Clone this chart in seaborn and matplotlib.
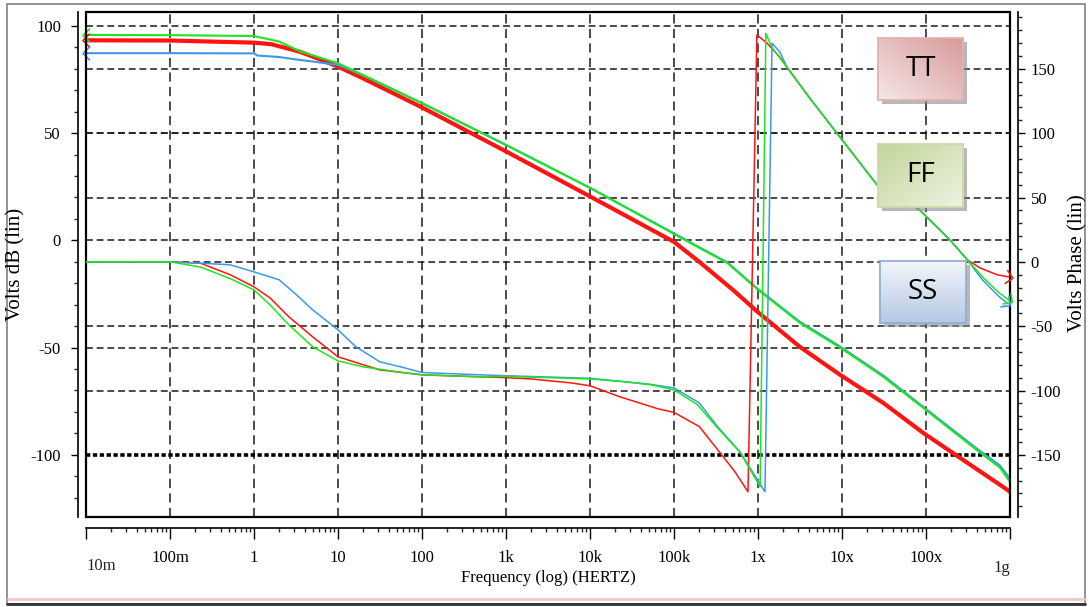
import numpy as np
import matplotlib
matplotlib.use("Agg")
import matplotlib.pyplot as plt
import matplotlib.ticker as mticker
import seaborn as sns
from matplotlib.path import Path
from matplotlib.markers import MarkerStyle
from matplotlib.transforms import Affine2D, blended_transform_factory
from matplotlib.patches import Rectangle
from matplotlib.lines import Line2D
from matplotlib.colors import to_rgb

# ---- axis ticks (SPICE engineering notation) ----
freq_ticks = [1e-2, 1e-1, 1, 10, 100, 1e3, 1e4, 1e5, 1e6, 1e7, 1e8, 1e9]
freq_labels = ["10m", "100m", "1", "10", "100", "1k", "10k", "100k", "1x", "10x", "100x", "1g"]
db_ticks = [100, 50, 0, -50, -100]
phase_ticks = [150, 100, 50, 0, -50, -100, -150]

corners = ["TT", "FF", "SS"]
corner_colors = {"TT": "#ff1414", "FF": "#1ee61e", "SS": "#3a9ae8"}

# ---- gain (dB) per process corner ----
tt_gain_f = [0.01, 0.1, 1, 1.6, 3.5, 6, 10, 20, 100, 1e3, 1e4, 1e5, 2e5, 5e5, 1e6,
             3.16e6, 9.5e6, 3.1e7, 9.2e7, 3.1e8, 7.6e8, 1e9]
tt_gain_db = [93.3, 93.2, 92.2, 91.5, 88, 84.5, 81, 75.5, 62, 41.5, 20.5, -0.7, -10,
              -23, -33.5, -49.7, -62.7, -75.8, -89.7, -103.7, -114, -117.2]

ff_gain_f = [0.01, 0.1, 1, 2, 3.6, 10, 20, 100, 1e3, 1e4, 1e5, 2e5, 4.3e5, 1e6,
             3.16e6, 9.5e6, 3.1e7, 9.2e7, 4e8, 7.6e8, 1e9]
ff_gain_db = [95.8, 95.7, 95.3, 92.7, 88, 82.6, 77, 64, 44.5, 24.5, 3, -3.5, -10.5,
              -23, -38.5, -50, -63.6, -78, -97.7, -106, -112.6]

ss_gain_f = [0.01, 0.1, 1, 1.1, 2, 3, 5, 10, 20, 100, 1e3, 1e4, 1e5, 2e5, 4.3e5, 1e6,
             3.16e6, 9.5e6, 3.1e7, 9.2e7, 4e8, 7.6e8, 1e9]
ss_gain_db = [87.3, 87.3, 87.2, 86.2, 85.5, 84.5, 83.4, 81.8, 77, 64, 44.5, 24.5, 3.3,
              -3.2, -10.2, -22.7, -38, -49.5, -63, -77.5, -97, -105, -111.2]

# ---- phase (degrees, wrapped to +-180) per process corner ----
tt_phase_f = [0.01, 0.1, 0.23, 0.52, 1, 1.55, 2.6, 5, 10, 20, 31.6, 100, 1e3, 2e3, 5.8e3,
              1e4, 2.3e4, 6.3e4, 1e5, 2e5, 3.7e5, 5.3e5, 7.6e5, 9.7e5, 1.28e6, 1.83e6,
              2.2e6, 4.16e6, 8.7e6, 2.6e7, 5.3e7, 8.5e7, 1.93e8, 3.1e8, 4.4e8, 7e8, 9.6e8]
tt_phase_deg = [0, 0, -1, -10, -19.4, -28, -42.7, -58.3, -73.8, -80, -84, -87.8, -90, -91,
                -94, -96.3, -105, -114, -117, -128, -150, -163, -178.7, 176.4, 170, 159,
                151.5, 127, 100, 60, 50, 40, 17, 1.6, -4.7, -10, -11.7]

ff_phase_f = [0.01, 0.1, 0.23, 0.52, 1, 1.55, 2.6, 5, 10, 20, 59, 100, 490, 1e3, 1e4,
              2.4e4, 5.4e4, 1e5, 1.9e5, 3.3e5, 6.1e5, 1.06e6, 1.24e6, 1.45e6, 2.2e6,
              4.16e6, 8.7e6, 2.6e7, 5.3e7, 8.5e7, 1.93e8, 3.1e8, 4.7e8, 7.4e8, 9.6e8]
ff_phase_deg = [0, 0, -4, -13, -21.8, -33.4, -49, -66, -77, -81.6, -86, -87.8, -89.4, -89,
                -91, -93, -95.6, -99.5, -111, -129, -148, -174.8, 177.6, 167, 151.5, 127,
                100, 60, 50, 40, 17, 1.6, -11.7, -24, -29.5]

ss_phase_f = [0.01, 0.1, 0.23, 0.52, 1, 2, 3.2, 5, 10, 16.3, 31.6, 59, 100, 490, 1e3, 1e4,
              5e4, 1e5, 2e5, 3.3e5, 6.1e5, 1.21e6, 1.47e6, 1.83e6, 2.2e6, 4.16e6, 8.7e6,
              2.6e7, 5.3e7, 8.5e7, 1.93e8, 3.1e8, 4.7e8, 7.4e8, 9.3e8]
ss_phase_deg = [0, 0, -1, -2.3, -7.8, -14, -25.6, -37.3, -52.8, -66, -77.7, -82, -86,
                -87.8, -88.5, -90.5, -95, -98, -109.6, -128, -147.6, -178.7, 170, 163,
                151.5, 127, 100, 60, 50, 40, 17, 1.6, -14, -27, -32]

gain = {"TT": (tt_gain_f, tt_gain_db), "FF": (ff_gain_f, ff_gain_db), "SS": (ss_gain_f, ss_gain_db)}
phase = {"TT": (tt_phase_f, tt_phase_deg), "FF": (ff_phase_f, ff_phase_deg), "SS": (ss_phase_f, ss_phase_deg)}

# ---- style ----
sns.set_theme(style="ticks")
plt.rcParams["font.family"] = ["Liberation Serif", "DejaVu Serif"]
plt.rcParams["axes.linewidth"] = 1.2

W, H = 1089, 607
fig = plt.figure(figsize=(W / 100, H / 100), dpi=100)
fig.patch.set_facecolor("white")


def fx(px):
    return px / W


def fy(py):
    return 1 - py / H


ax = fig.add_axes([fx(86), fy(517), fx(1010 - 86), (517 - 12) / H])
ax2 = ax.twinx()
ax.set_xscale("log")

# ---- grid ----
grid_kw = dict(color="#1a1a1a", lw=1.1, zorder=1)
for t in freq_ticks[1:-1]:
    ax.axvline(t, ls=(0, (6, 3.5)), **grid_kw)
for v in db_ticks[:-1]:
    ax.axhline(v, ls=(0, (4.5, 2.5)), **grid_kw)
phase_tr = blended_transform_factory(ax.transAxes, ax2.transData)
for p in phase_ticks[:-1]:
    ax.plot([0, 1], [p, p], transform=phase_tr, ls=(0, (4.5, 2.5)), **grid_kw)
ax.axhline(db_ticks[-1], color="black", lw=2.6, ls=(0, (1.2, 0.7)), zorder=1)

# ---- curves ----
gain_lw = {"TT": 3.0, "FF": 1.5, "SS": 1.5}
for c in ["TT", "SS", "FF"]:
    f, g = gain[c]
    sns.lineplot(x=f, y=g, ax=ax, color=corner_colors[c], lw=gain_lw[c],
                 estimator=None, sort=False, legend=False, zorder=3)
for c in ["TT", "SS", "FF"]:
    f, p = phase[c]
    sns.lineplot(x=f, y=p, ax=ax2, color=corner_colors[c], lw=1.1,
                 estimator=None, sort=False, legend=False, zorder=3)
ax.set_xscale("log")
ax.set_xlim(1e-2, 1e9)
ax.set_ylim(-129, 106.5)
ax2.set_ylim(-198.3, 194.2)

# ---- curve end markers (open chevrons) ----
chevron = Path([(-0.5, 1.0), (0.5, 0.0), (-0.5, -1.0)],
               [Path.MOVETO, Path.LINETO, Path.LINETO])
for c in corners:
    f, g = gain[c]
    ms = MarkerStyle(chevron, fillstyle="none", transform=Affine2D().rotate(np.pi))
    ax.plot([f[0]], [g[0]], marker=ms, ms=10, mec=corner_colors[c], mew=1.2,
            ls="none", clip_on=False, zorder=4)
    f, p = phase[c]
    d = ax2.transData.transform([(f[-2], p[-2]), (f[-1], p[-1])])
    ang = np.arctan2(d[1, 1] - d[0, 1], d[1, 0] - d[0, 0])
    ms = MarkerStyle(chevron, fillstyle="none", transform=Affine2D().rotate(ang))
    ax2.plot([f[-1]], [p[-1]], marker=ms, ms=10, mec=corner_colors[c], mew=1.2,
             ls="none", clip_on=False, zorder=4)

# ---- axes, spines, ticks ----
ax.add_patch(Rectangle((0, 0), 1, 1, transform=ax.transAxes, fill=False,
                       ec="black", lw=1.6, clip_on=False, zorder=6))
ax.spines["left"].set_position(("outward", 6))
ax.spines["bottom"].set_position(("outward", 8))
for s in ["top", "right"]:
    ax.spines[s].set_visible(False)
for s in ["top", "left", "bottom"]:
    ax2.spines[s].set_visible(False)
ax2.spines["right"].set_position(("outward", 6))
for s in ["left", "bottom"]:
    ax.spines[s].set_color("black")
ax2.spines["right"].set_color("black")

ax.set_xticks(freq_ticks)
ax.set_xticklabels([""] + freq_labels[1:-1] + [""])
ax.xaxis.set_minor_locator(mticker.LogLocator(base=10, subs=np.arange(2, 10), numticks=100))
ax.xaxis.set_minor_formatter(mticker.NullFormatter())
ax.set_yticks(db_ticks)
ax.set_yticklabels([str(v) for v in db_ticks])
ax.set_yticks(np.arange(-120, 101, 10), minor=True)
ax2.set_yticks(phase_ticks)
ax2.set_yticklabels([str(v) for v in phase_ticks])
ax2.set_yticks(np.arange(-190, 191, 10), minor=True)

ax.tick_params(axis="x", which="major", bottom=True, direction="out", length=8,
               width=1, pad=8, labelsize=12, colors="black")
ax.tick_params(axis="x", which="minor", bottom=True, direction="out", length=3, width=1)
ax.tick_params(axis="y", which="major", left=True, direction="out", length=5,
               width=1, pad=7, labelsize=12, colors="black")
ax.tick_params(axis="y", which="minor", left=True, direction="out", length=3, width=1)
ax2.tick_params(axis="y", which="major", right=True, direction="out", length=5,
                width=1, pad=4, labelsize=12, colors="black")
ax2.tick_params(axis="y", which="minor", right=True, direction="out", length=3, width=1)

end_tr = blended_transform_factory(ax.transData, ax.transAxes)
ax.text(freq_ticks[0], -0.097, freq_labels[0], transform=end_tr, ha="left", va="center",
        fontsize=12)
ax.text(freq_ticks[-1], -0.1, freq_labels[-1], transform=end_tr, ha="right", va="center",
        fontsize=12)

ax.set_xlabel("Frequency (log) (HERTZ)", fontsize=12, labelpad=3, color="black")
fig.text(fx(16), fy(264), "Volts dB (lin)", rotation=90, ha="center", va="center",
         fontsize=15, color="black")
fig.text(fx(1078), fy(263), "Volts Phase (lin)", rotation=90, ha="center", va="center",
         fontsize=15, color="black")

# ---- corner tags ----
def gradient(kind, c0, c1, n=64):
    u, v = np.meshgrid(np.linspace(0, 1, n), np.linspace(0, 1, n))
    if kind == "diag_up":
        t = (u + (1 - v)) / 2
    elif kind == "diag_down":
        t = (u + v) / 2
    else:
        t = v
    a, b = np.array(to_rgb(c0)), np.array(to_rgb(c1))
    return (1 - t)[..., None] * a + t[..., None] * b


tags = [
    ("TT", (878, 38, 963, 100), gradient("diag_up", "#f6e6e6", "#d89a9a"), "#e3b1b1"),
    ("FF", (878, 144, 963, 207), gradient("diag_down", "#c2d59a", "#eef3e3"), "#c9dba6"),
    ("SS", (880, 261, 966, 323), gradient("vert", "#f3f6fb", "#b5c8e4"), "#93b0d6"),
]
for text, (x0, y0, x1, y1), img, edge in tags:
    fig.add_artist(Rectangle((fx(x0 + 4), fy(y1 + 4)), fx(x1 - x0), (y1 - y0) / H,
                             transform=fig.transFigure, color="#8a8a8a", alpha=0.6,
                             lw=0, zorder=2))
    tax = fig.add_axes([fx(x0), fy(y1), fx(x1 - x0), (y1 - y0) / H])
    tax.set_zorder(5)
    tax.imshow(img, aspect="auto", extent=(0, 1, 0, 1), interpolation="bilinear")
    tax.set_xticks([])
    tax.set_yticks([])
    for s in tax.spines.values():
        s.set_visible(True)
        s.set_color(edge)
        s.set_linewidth(1.3)
    tax.text(0.5, 0.5, text, ha="center", va="center", fontsize=20,
             family=["Open Sans", "DejaVu Sans"], color="black", transform=tax.transAxes)

# ---- outer frame ----
fig.add_artist(Rectangle((fx(7), fy(604)), fx(1085 - 7), (604 - 4) / H,
                         transform=fig.transFigure, fill=False, ec="#808080", lw=1.2))
fig.add_artist(Line2D([fx(8), fx(1084)], [fy(599), fy(599)], color="#f5c6c6", lw=2,
                      transform=fig.transFigure))
fig.add_artist(Line2D([fx(7), fx(1085)], [fy(604), fy(604)], color="#333333", lw=2,
                      transform=fig.transFigure))

fig.savefig("out.png", dpi=100)
